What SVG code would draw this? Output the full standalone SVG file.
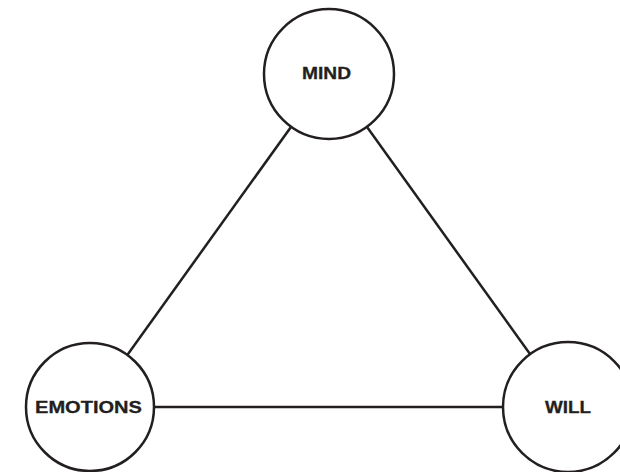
<svg xmlns="http://www.w3.org/2000/svg" width="620" height="472" viewBox="0 0 620 472">
<style>
.node circle{fill:#fff;stroke:#231f20;stroke-width:2.5}
.node text{font-family:"Liberation Sans",Arial,sans-serif;font-weight:bold;font-size:16.5px;fill:#231f20;text-anchor:middle;stroke:#231f20;stroke-width:0.3}
.edges line{stroke:#231f20;stroke-width:2.5}
</style>
<rect width="620" height="472" fill="#fff"/>
<g id="connectors" class="edges">
<line x1="329" y1="74" x2="90" y2="407"/>
<line x1="329" y1="74" x2="568" y2="407"/>
<line x1="90" y1="407" x2="568" y2="407"/>
</g>
<g id="mind" class="node">
<circle cx="329" cy="74" r="65"/>
<text x="326.5" y="78.5" textLength="49" lengthAdjust="spacingAndGlyphs">MIND</text>
</g>
<g id="emotions" class="node">
<circle cx="90" cy="407" r="64"/>
<text x="88.5" y="412.5" textLength="107" lengthAdjust="spacingAndGlyphs">EMOTIONS</text>
</g>
<g id="will" class="node">
<circle cx="568" cy="407" r="65"/>
<text x="568" y="412.5" textLength="46" lengthAdjust="spacingAndGlyphs">WILL</text>
</g>
</svg>
